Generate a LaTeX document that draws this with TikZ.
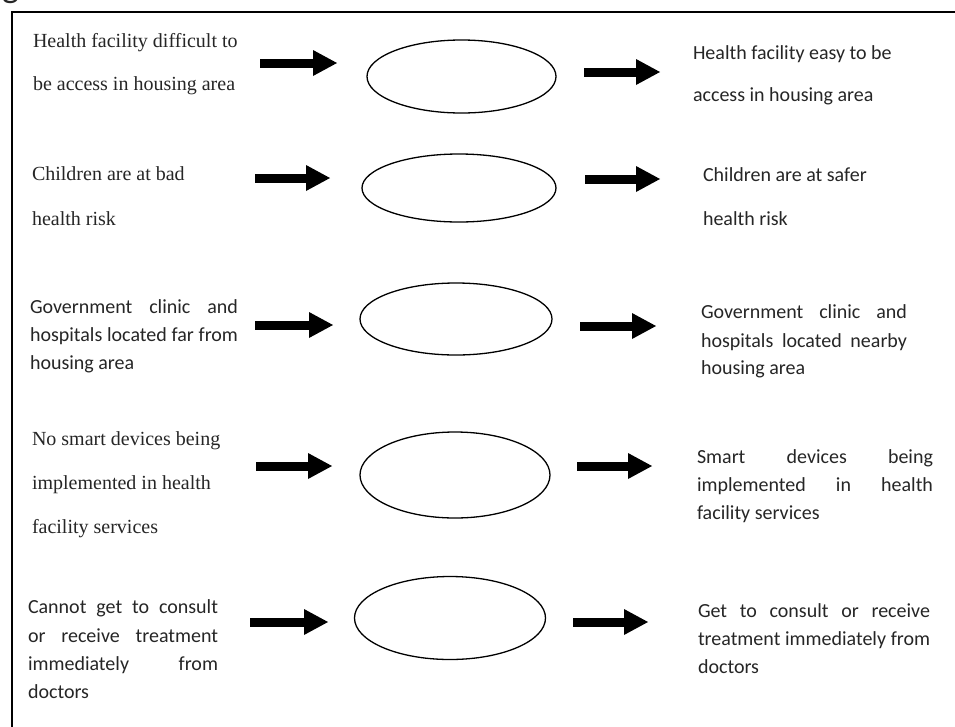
\documentclass[tikz,border=0pt]{standalone}
\usepackage{fontspec}
\setmainfont{Liberation Serif}
\newfontfamily\calib{Carlito}
\usetikzlibrary{arrows.meta,shapes.geometric}
\tikzset{
  txt/.style={anchor=base west, inner sep=0pt, outer sep=0pt, text=black!85},
  ser/.style={txt, font=\fontsize{20}{24}\selectfont\rmfamily},
  cal/.style={txt, font=\fontsize{20}{24}\selectfont\calib},
  oval/.style={draw, ellipse, line width=1.3pt, inner sep=0pt},
  blockarrow/.style={line width=9pt, -{Triangle[length=24pt,width=26pt,line width=0pt]}},
  frame/.style={draw, line width=2.5pt}
}
\newcommand{\jl}[2]{\makebox[#1][s]{#2}}
\begin{document}
\begin{tikzpicture}[x=1pt,y=-1pt]
\useasboundingbox (0,0) rectangle (955,726);
\clip (0,0) rectangle (955,726);
\fill[white] (0,0) rectangle (955,726);
% cut-off glyph at the top-left
\node[txt, font=\fontsize{36}{40}\selectfont\calib] (gtop) at (2,-3) {g};
% frame
\draw[frame] (12,12) rectangle (1000,800);

% ---------- Row 1 ----------
\node[ser] (l1a) at (33,47) {Health facility difficult to};
\node[ser] (l1b) at (33,90) {be access in housing area};
\node[oval, minimum width=189pt, minimum height=73pt] (e1) at (461.5,76.5) {};
\node[cal] (r1a) at (693,59) {Health facility easy to be};
\node[cal] (r1b) at (693,101) {access in housing area};
\coordinate (a1s) at (260,63); \coordinate (a1e) at (337,63);
\coordinate (b1s) at (584,72); \coordinate (b1e) at (660,72);
\draw[blockarrow] (a1s) -- (a1e);
\draw[blockarrow] (b1s) -- (b1e);

% ---------- Row 2 ----------
\node[ser] (l2a) at (32,180) {Children are at bad};
\node[ser] (l2b) at (32,225) {health risk};
\node[oval, minimum width=194pt, minimum height=68pt] (e2) at (459,188) {};
\node[cal] (r2a) at (703,181) {Children are at safer};
\node[cal] (r2b) at (703,225) {health risk};
\coordinate (a2s) at (255,178); \coordinate (a2e) at (330,178);
\coordinate (b2s) at (585,179); \coordinate (b2e) at (660,179);
\draw[blockarrow] (a2s) -- (a2e);
\draw[blockarrow] (b2s) -- (b2e);

% ---------- Row 3 ----------
\node[cal] (l3a) at (30,313) {\jl{208pt}{Government clinic and}};
\node[cal] (l3b) at (30,341) {\jl{208pt}{hospitals located far from}};
\node[cal] (l3c) at (30,369) {housing area};
\node[oval, minimum width=192pt, minimum height=72pt] (e3) at (456,319) {};
\node[cal] (r3a) at (701,318) {\jl{206pt}{Government clinic and}};
\node[cal] (r3b) at (701,347) {\jl{206pt}{hospitals located nearby}};
\node[cal] (r3c) at (701,374) {housing area};
\coordinate (a3s) at (255,325); \coordinate (a3e) at (333,325);
\coordinate (b3s) at (580,326); \coordinate (b3e) at (656,326);
\draw[blockarrow] (a3s) -- (a3e);
\draw[blockarrow] (b3s) -- (b3e);

% ---------- Row 4 ----------
\node[ser] (l4a) at (32,445) {No smart devices being};
\node[ser] (l4b) at (32,489) {implemented in health};
\node[ser] (l4c) at (32,533) {facility services};
\node[oval, minimum width=190pt, minimum height=86pt] (e4) at (455,475) {};
\node[cal] (r4a) at (697,463) {\jl{236pt}{Smart devices being}};
\node[cal] (r4b) at (697,491) {\jl{236pt}{implemented in health}};
\node[cal] (r4c) at (697,519) {facility services};
\coordinate (a4s) at (256,466); \coordinate (a4e) at (332,466);
\coordinate (b4s) at (577,466); \coordinate (b4e) at (652,466);
\draw[blockarrow] (a4s) -- (a4e);
\draw[blockarrow] (b4s) -- (b4e);

% ---------- Row 5 ----------
\node[cal] (l5a) at (28,613) {\jl{190pt}{Cannot get to consult}};
\node[cal] (l5b) at (28,642) {\jl{190pt}{or receive treatment}};
\node[cal] (l5c) at (28,670) {\jl{190pt}{immediately from}};
\node[cal] (l5d) at (28,698) {doctors};
\node[oval, minimum width=191pt, minimum height=83pt] (e5) at (450,618) {};
\node[cal] (r5a) at (698,617) {\jl{232pt}{Get to consult or receive}};
\node[cal] (r5b) at (698,645) {\jl{232pt}{treatment immediately from}};
\node[cal] (r5c) at (698,673) {doctors};
\coordinate (a5s) at (250,622); \coordinate (a5e) at (328,622);
\coordinate (b5s) at (573,622); \coordinate (b5e) at (648,622);
\draw[blockarrow] (a5s) -- (a5e);
\draw[blockarrow] (b5s) -- (b5e);
\end{tikzpicture}
\end{document}
